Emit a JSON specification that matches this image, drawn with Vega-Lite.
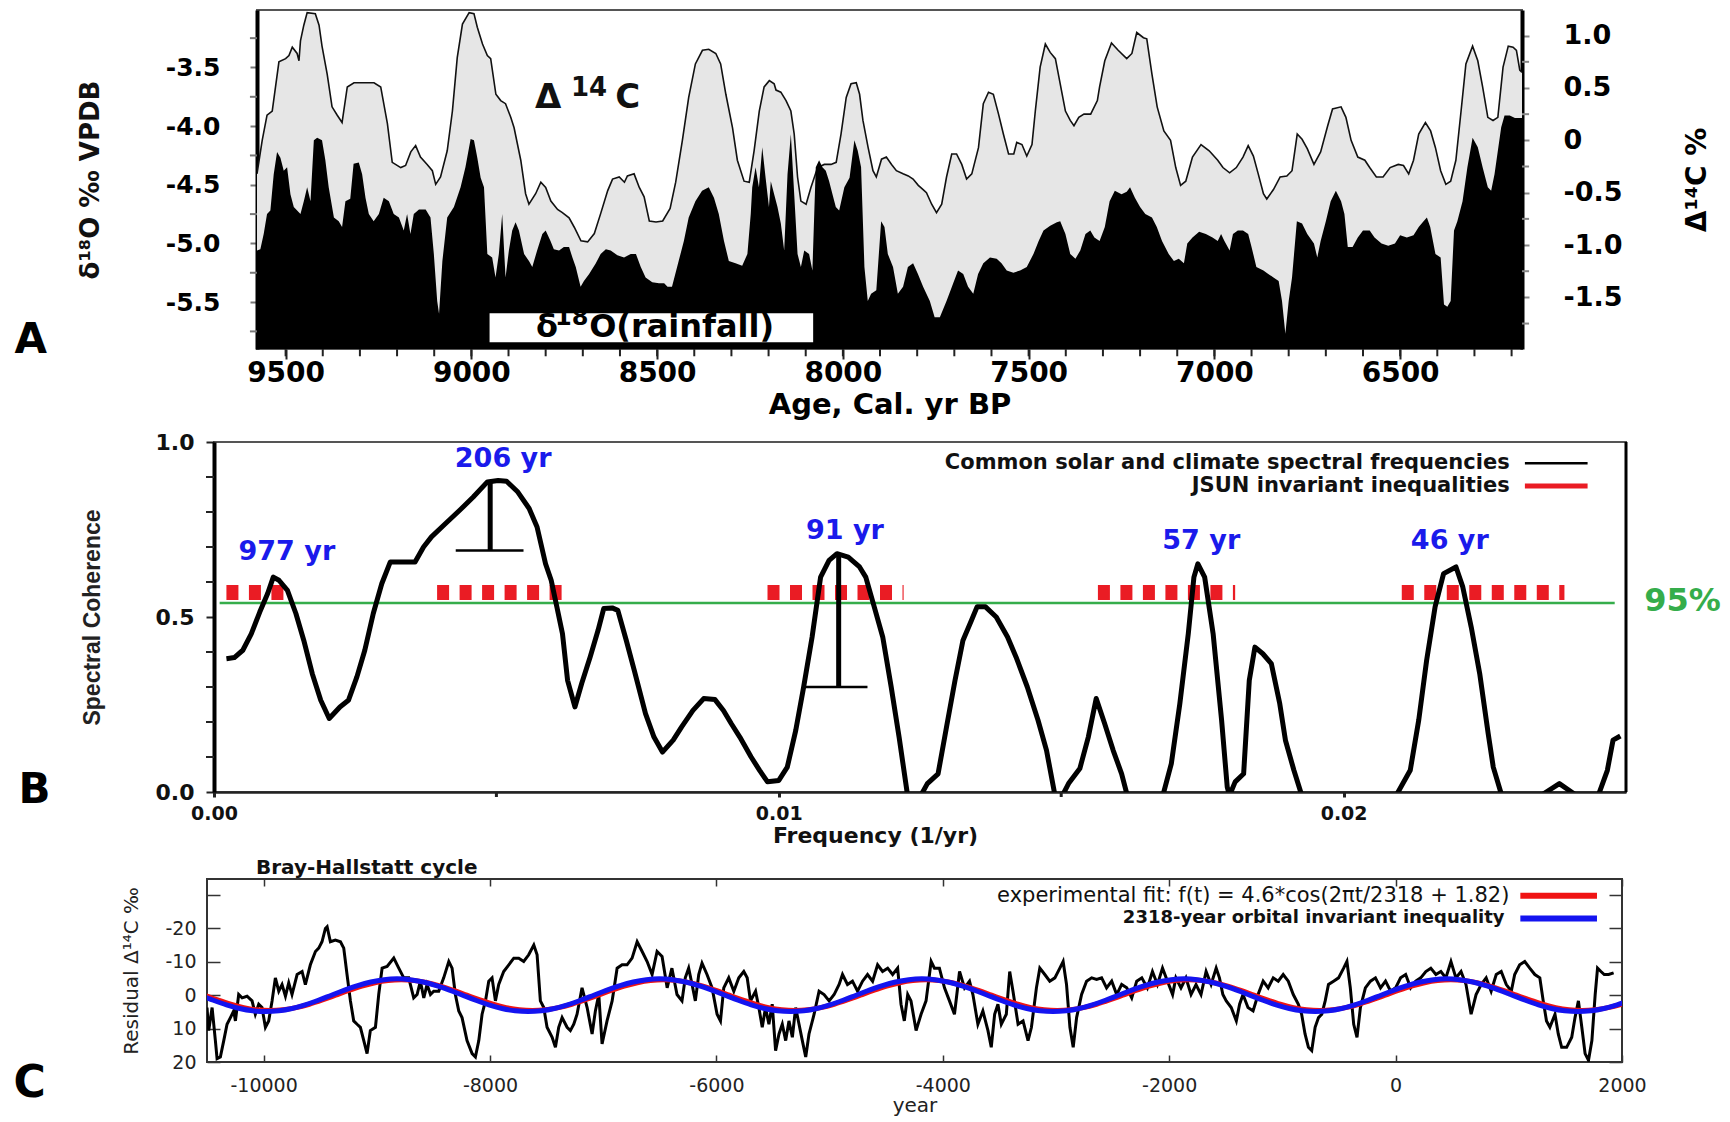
{
"$schema": "https://vega.github.io/schema/vega-lite/v6.json",
"background": "white",
"padding": {"left": 8, "top": 9, "right": 2, "bottom": 2},
"spacing": 10,
"config": {
  "view": {"stroke": "#555", "strokeWidth": 2},
  "axis": {"grid": false, "labelOverlap": false},
  "text": {"font": "DejaVu Sans"}
},
"datasets": {
"d14c": [{"age":9577,"v":-0.32},{"age":9563,"v":0.0},{"age":9550,"v":0.24},{"age":9536,"v":0.28},{"age":9518,"v":0.75},{"age":9500,"v":0.78},{"age":9491,"v":0.81},{"age":9482,"v":0.89},{"age":9469,"v":0.83},{"age":9464,"v":0.76},{"age":9460,"v":0.95},{"age":9451,"v":1.10},{"age":9442,"v":1.22},{"age":9420,"v":1.21},{"age":9410,"v":1.10},{"age":9402,"v":0.90},{"age":9388,"v":0.63},{"age":9375,"v":0.32},{"age":9361,"v":0.24},{"age":9348,"v":0.17},{"age":9334,"v":0.51},{"age":9316,"v":0.55},{"age":9294,"v":0.55},{"age":9262,"v":0.55},{"age":9244,"v":0.51},{"age":9226,"v":0.16},{"age":9213,"v":-0.21},{"age":9190,"v":-0.26},{"age":9177,"v":-0.24},{"age":9163,"v":-0.11},{"age":9150,"v":-0.05},{"age":9137,"v":-0.16},{"age":9119,"v":-0.23},{"age":9105,"v":-0.29},{"age":9096,"v":-0.42},{"age":9083,"v":-0.35},{"age":9065,"v":-0.10},{"age":9051,"v":0.28},{"age":9038,"v":0.79},{"age":9024,"v":1.11},{"age":9006,"v":1.22},{"age":8993,"v":1.21},{"age":8984,"v":1.08},{"age":8970,"v":0.92},{"age":8957,"v":0.81},{"age":8948,"v":0.78},{"age":8934,"v":0.44},{"age":8921,"v":0.38},{"age":8908,"v":0.35},{"age":8894,"v":0.22},{"age":8885,"v":0.12},{"age":8867,"v":-0.19},{"age":8854,"v":-0.51},{"age":8845,"v":-0.61},{"age":8827,"v":-0.51},{"age":8813,"v":-0.40},{"age":8800,"v":-0.45},{"age":8786,"v":-0.58},{"age":8768,"v":-0.66},{"age":8755,"v":-0.69},{"age":8737,"v":-0.74},{"age":8723,"v":-0.83},{"age":8705,"v":-0.96},{"age":8687,"v":-0.97},{"age":8669,"v":-0.89},{"age":8652,"v":-0.70},{"age":8633,"v":-0.48},{"age":8620,"v":-0.37},{"age":8602,"v":-0.35},{"age":8588,"v":-0.40},{"age":8580,"v":-0.34},{"age":8562,"v":-0.32},{"age":8548,"v":-0.45},{"age":8535,"v":-0.54},{"age":8521,"v":-0.77},{"age":8503,"v":-0.78},{"age":8485,"v":-0.77},{"age":8465,"v":-0.65},{"age":8450,"v":-0.40},{"age":8432,"v":0.0},{"age":8415,"v":0.41},{"age":8397,"v":0.73},{"age":8378,"v":0.86},{"age":8361,"v":0.87},{"age":8342,"v":0.83},{"age":8329,"v":0.73},{"age":8315,"v":0.44},{"age":8297,"v":0.12},{"age":8284,"v":-0.19},{"age":8266,"v":-0.39},{"age":8252,"v":-0.40},{"age":8239,"v":-0.10},{"age":8225,"v":0.28},{"age":8212,"v":0.51},{"age":8198,"v":0.57},{"age":8185,"v":0.54},{"age":8180,"v":0.48},{"age":8167,"v":0.46},{"age":8153,"v":0.38},{"age":8140,"v":0.28},{"age":8131,"v":0.06},{"age":8122,"v":-0.35},{"age":8113,"v":-0.58},{"age":8099,"v":-0.61},{"age":8086,"v":-0.45},{"age":8068,"v":-0.26},{"age":8050,"v":-0.23},{"age":8032,"v":-0.23},{"age":8018,"v":-0.21},{"age":8005,"v":0.06},{"age":7991,"v":0.41},{"age":7978,"v":0.54},{"age":7964,"v":0.55},{"age":7955,"v":0.44},{"age":7946,"v":0.19},{"age":7932,"v":-0.07},{"age":7919,"v":-0.29},{"age":7910,"v":-0.35},{"age":7896,"v":-0.18},{"age":7883,"v":-0.16},{"age":7869,"v":-0.23},{"age":7856,"v":-0.29},{"age":7838,"v":-0.32},{"age":7824,"v":-0.34},{"age":7811,"v":-0.37},{"age":7797,"v":-0.43},{"age":7784,"v":-0.47},{"age":7775,"v":-0.50},{"age":7761,"v":-0.61},{"age":7748,"v":-0.69},{"age":7734,"v":-0.61},{"age":7721,"v":-0.35},{"age":7707,"v":-0.13},{"age":7694,"v":-0.13},{"age":7680,"v":-0.23},{"age":7667,"v":-0.37},{"age":7653,"v":-0.32},{"age":7635,"v":-0.07},{"age":7622,"v":0.35},{"age":7608,"v":0.46},{"age":7595,"v":0.44},{"age":7581,"v":0.25},{"age":7568,"v":0.06},{"age":7554,"v":-0.13},{"age":7540,"v":-0.13},{"age":7532,"v":-0.02},{"age":7518,"v":-0.04},{"age":7505,"v":-0.15},{"age":7491,"v":-0.04},{"age":7482,"v":0.28},{"age":7469,"v":0.70},{"age":7455,"v":0.92},{"age":7442,"v":0.84},{"age":7428,"v":0.78},{"age":7415,"v":0.54},{"age":7401,"v":0.28},{"age":7388,"v":0.19},{"age":7378,"v":0.14},{"age":7365,"v":0.22},{"age":7351,"v":0.25},{"age":7333,"v":0.25},{"age":7315,"v":0.38},{"age":7309,"v":0.51},{"age":7295,"v":0.76},{"age":7277,"v":0.93},{"age":7259,"v":0.86},{"age":7236,"v":0.78},{"age":7222,"v":0.83},{"age":7209,"v":1.03},{"age":7191,"v":0.98},{"age":7182,"v":0.97},{"age":7168,"v":0.63},{"age":7154,"v":0.32},{"age":7136,"v":0.09},{"age":7118,"v":0.0},{"age":7104,"v":-0.26},{"age":7091,"v":-0.43},{"age":7077,"v":-0.39},{"age":7059,"v":-0.16},{"age":7036,"v":-0.04},{"age":7014,"v":-0.10},{"age":6991,"v":-0.19},{"age":6977,"v":-0.26},{"age":6959,"v":-0.31},{"age":6941,"v":-0.26},{"age":6923,"v":-0.16},{"age":6909,"v":-0.05},{"age":6895,"v":-0.15},{"age":6882,"v":-0.32},{"age":6868,"v":-0.51},{"age":6859,"v":-0.56},{"age":6841,"v":-0.47},{"age":6823,"v":-0.35},{"age":6805,"v":-0.34},{"age":6791,"v":-0.29},{"age":6777,"v":0.06},{"age":6764,"v":0.01},{"age":6750,"v":-0.08},{"age":6732,"v":-0.23},{"age":6714,"v":-0.11},{"age":6695,"v":0.14},{"age":6682,"v":0.30},{"age":6659,"v":0.32},{"age":6646,"v":0.22},{"age":6632,"v":0.0},{"age":6614,"v":-0.16},{"age":6595,"v":-0.19},{"age":6582,"v":-0.26},{"age":6564,"v":-0.35},{"age":6546,"v":-0.35},{"age":6527,"v":-0.26},{"age":6505,"v":-0.23},{"age":6491,"v":-0.24},{"age":6477,"v":-0.32},{"age":6464,"v":-0.19},{"age":6450,"v":0.06},{"age":6432,"v":0.17},{"age":6418,"v":0.09},{"age":6405,"v":-0.07},{"age":6391,"v":-0.29},{"age":6377,"v":-0.42},{"age":6364,"v":-0.39},{"age":6350,"v":-0.19},{"age":6336,"v":0.28},{"age":6323,"v":0.73},{"age":6305,"v":0.90},{"age":6291,"v":0.76},{"age":6278,"v":0.51},{"age":6264,"v":0.22},{"age":6250,"v":0.19},{"age":6237,"v":0.22},{"age":6223,"v":0.70},{"age":6209,"v":0.90},{"age":6196,"v":0.89},{"age":6187,"v":0.86},{"age":6178,"v":0.67},{"age":6172,"v":0.65}],
"d18o": [{"age":9577,"v":-5.06},{"age":9568,"v":-5.05},{"age":9559,"v":-4.92},{"age":9550,"v":-4.75},{"age":9541,"v":-4.72},{"age":9532,"v":-4.41},{"age":9523,"v":-4.22},{"age":9514,"v":-4.27},{"age":9505,"v":-4.38},{"age":9496,"v":-4.35},{"age":9487,"v":-4.58},{"age":9478,"v":-4.69},{"age":9469,"v":-4.72},{"age":9460,"v":-4.75},{"age":9451,"v":-4.64},{"age":9442,"v":-4.52},{"age":9433,"v":-4.64},{"age":9424,"v":-4.12},{"age":9415,"v":-4.10},{"age":9402,"v":-4.12},{"age":9393,"v":-4.29},{"age":9384,"v":-4.52},{"age":9370,"v":-4.78},{"age":9357,"v":-4.81},{"age":9348,"v":-4.86},{"age":9339,"v":-4.64},{"age":9326,"v":-4.62},{"age":9317,"v":-4.32},{"age":9303,"v":-4.31},{"age":9294,"v":-4.41},{"age":9285,"v":-4.61},{"age":9276,"v":-4.75},{"age":9263,"v":-4.81},{"age":9249,"v":-4.75},{"age":9236,"v":-4.61},{"age":9222,"v":-4.64},{"age":9209,"v":-4.75},{"age":9195,"v":-4.78},{"age":9182,"v":-4.89},{"age":9173,"v":-4.75},{"age":9164,"v":-4.92},{"age":9155,"v":-4.75},{"age":9141,"v":-4.71},{"age":9123,"v":-4.71},{"age":9110,"v":-4.78},{"age":9101,"v":-5.09},{"age":9092,"v":-5.49},{"age":9087,"v":-5.60},{"age":9078,"v":-5.15},{"age":9065,"v":-4.78},{"age":9047,"v":-4.69},{"age":9029,"v":-4.52},{"age":9016,"v":-4.35},{"age":9002,"v":-4.11},{"age":8993,"v":-4.12},{"age":8984,"v":-4.27},{"age":8975,"v":-4.44},{"age":8966,"v":-4.52},{"age":8957,"v":-5.09},{"age":8944,"v":-5.12},{"age":8935,"v":-5.29},{"age":8926,"v":-5.09},{"age":8917,"v":-4.75},{"age":8908,"v":-5.29},{"age":8899,"v":-5.06},{"age":8890,"v":-4.89},{"age":8881,"v":-4.82},{"age":8872,"v":-4.89},{"age":8858,"v":-5.09},{"age":8845,"v":-5.15},{"age":8836,"v":-5.20},{"age":8823,"v":-5.06},{"age":8809,"v":-4.92},{"age":8800,"v":-4.89},{"age":8787,"v":-4.98},{"age":8778,"v":-5.05},{"age":8764,"v":-5.06},{"age":8751,"v":-5.03},{"age":8737,"v":-5.03},{"age":8728,"v":-5.12},{"age":8719,"v":-5.20},{"age":8706,"v":-5.37},{"age":8697,"v":-5.32},{"age":8683,"v":-5.26},{"age":8665,"v":-5.17},{"age":8652,"v":-5.09},{"age":8638,"v":-5.05},{"age":8625,"v":-5.06},{"age":8607,"v":-5.10},{"age":8589,"v":-5.12},{"age":8571,"v":-5.09},{"age":8557,"v":-5.09},{"age":8544,"v":-5.20},{"age":8531,"v":-5.29},{"age":8513,"v":-5.33},{"age":8495,"v":-5.34},{"age":8481,"v":-5.34},{"age":8472,"v":-5.37},{"age":8460,"v":-5.37},{"age":8442,"v":-5.15},{"age":8428,"v":-4.98},{"age":8415,"v":-4.78},{"age":8397,"v":-4.64},{"age":8379,"v":-4.55},{"age":8361,"v":-4.52},{"age":8347,"v":-4.61},{"age":8334,"v":-4.75},{"age":8320,"v":-4.98},{"age":8307,"v":-5.15},{"age":8289,"v":-5.17},{"age":8271,"v":-5.19},{"age":8257,"v":-5.09},{"age":8248,"v":-4.75},{"age":8244,"v":-4.52},{"age":8235,"v":-4.35},{"age":8226,"v":-4.52},{"age":8217,"v":-4.18},{"age":8208,"v":-4.44},{"age":8199,"v":-4.69},{"age":8194,"v":-4.47},{"age":8185,"v":-4.58},{"age":8176,"v":-4.69},{"age":8167,"v":-4.83},{"age":8158,"v":-5.06},{"age":8149,"v":-4.41},{"age":8140,"v":-4.07},{"age":8131,"v":-4.58},{"age":8122,"v":-5.09},{"age":8113,"v":-5.20},{"age":8104,"v":-5.06},{"age":8091,"v":-5.09},{"age":8082,"v":-5.23},{"age":8073,"v":-4.35},{"age":8064,"v":-4.29},{"age":8055,"v":-4.35},{"age":8046,"v":-4.38},{"age":8037,"v":-4.47},{"age":8028,"v":-4.58},{"age":8019,"v":-4.69},{"age":8010,"v":-4.72},{"age":7996,"v":-4.52},{"age":7982,"v":-4.44},{"age":7969,"v":-4.12},{"age":7960,"v":-4.21},{"age":7951,"v":-4.35},{"age":7942,"v":-5.20},{"age":7933,"v":-5.49},{"age":7924,"v":-5.43},{"age":7910,"v":-5.40},{"age":7897,"v":-4.81},{"age":7888,"v":-4.86},{"age":7879,"v":-5.09},{"age":7865,"v":-5.20},{"age":7852,"v":-5.43},{"age":7838,"v":-5.37},{"age":7825,"v":-5.20},{"age":7811,"v":-5.17},{"age":7798,"v":-5.26},{"age":7784,"v":-5.37},{"age":7766,"v":-5.49},{"age":7753,"v":-5.63},{"age":7739,"v":-5.63},{"age":7721,"v":-5.49},{"age":7703,"v":-5.34},{"age":7690,"v":-5.23},{"age":7676,"v":-5.26},{"age":7663,"v":-5.37},{"age":7649,"v":-5.43},{"age":7636,"v":-5.26},{"age":7622,"v":-5.17},{"age":7604,"v":-5.12},{"age":7586,"v":-5.13},{"age":7573,"v":-5.17},{"age":7559,"v":-5.23},{"age":7541,"v":-5.25},{"age":7523,"v":-5.23},{"age":7505,"v":-5.20},{"age":7487,"v":-5.09},{"age":7473,"v":-4.98},{"age":7460,"v":-4.89},{"age":7442,"v":-4.85},{"age":7424,"v":-4.82},{"age":7415,"v":-4.81},{"age":7401,"v":-4.92},{"age":7388,"v":-5.09},{"age":7374,"v":-5.13},{"age":7361,"v":-5.06},{"age":7347,"v":-4.92},{"age":7334,"v":-4.89},{"age":7323,"v":-4.95},{"age":7309,"v":-4.98},{"age":7295,"v":-4.86},{"age":7282,"v":-4.64},{"age":7268,"v":-4.55},{"age":7250,"v":-4.58},{"age":7236,"v":-4.56},{"age":7227,"v":-4.52},{"age":7214,"v":-4.61},{"age":7200,"v":-4.69},{"age":7186,"v":-4.75},{"age":7168,"v":-4.78},{"age":7155,"v":-4.86},{"age":7141,"v":-4.98},{"age":7123,"v":-5.09},{"age":7109,"v":-5.15},{"age":7096,"v":-5.13},{"age":7082,"v":-5.17},{"age":7073,"v":-5.00},{"age":7059,"v":-4.95},{"age":7041,"v":-4.90},{"age":7023,"v":-4.92},{"age":7005,"v":-4.95},{"age":6991,"v":-4.98},{"age":6982,"v":-4.92},{"age":6973,"v":-4.98},{"age":6959,"v":-5.06},{"age":6950,"v":-4.92},{"age":6937,"v":-4.89},{"age":6923,"v":-4.89},{"age":6909,"v":-4.92},{"age":6900,"v":-5.03},{"age":6887,"v":-5.20},{"age":6868,"v":-5.23},{"age":6855,"v":-5.26},{"age":6841,"v":-5.29},{"age":6827,"v":-5.32},{"age":6818,"v":-5.49},{"age":6809,"v":-5.77},{"age":6800,"v":-5.49},{"age":6791,"v":-5.29},{"age":6778,"v":-4.81},{"age":6764,"v":-4.83},{"age":6750,"v":-4.92},{"age":6732,"v":-5.00},{"age":6723,"v":-5.12},{"age":6714,"v":-4.98},{"age":6700,"v":-4.81},{"age":6687,"v":-4.64},{"age":6673,"v":-4.55},{"age":6659,"v":-4.64},{"age":6650,"v":-4.75},{"age":6641,"v":-5.03},{"age":6628,"v":-5.03},{"age":6614,"v":-4.95},{"age":6600,"v":-4.89},{"age":6582,"v":-4.89},{"age":6569,"v":-4.95},{"age":6550,"v":-5.00},{"age":6532,"v":-5.02},{"age":6514,"v":-5.00},{"age":6500,"v":-4.93},{"age":6482,"v":-4.95},{"age":6464,"v":-4.93},{"age":6450,"v":-4.86},{"age":6437,"v":-4.81},{"age":6428,"v":-4.78},{"age":6419,"v":-4.86},{"age":6405,"v":-5.09},{"age":6391,"v":-5.12},{"age":6382,"v":-5.52},{"age":6373,"v":-5.54},{"age":6364,"v":-5.49},{"age":6355,"v":-4.89},{"age":6346,"v":-4.81},{"age":6332,"v":-4.64},{"age":6319,"v":-4.35},{"age":6305,"v":-4.10},{"age":6291,"v":-4.18},{"age":6278,"v":-4.35},{"age":6264,"v":-4.52},{"age":6255,"v":-4.55},{"age":6246,"v":-4.41},{"age":6237,"v":-4.21},{"age":6228,"v":-4.01},{"age":6219,"v":-3.91},{"age":6205,"v":-3.91},{"age":6191,"v":-3.93},{"age":6178,"v":-3.93},{"age":6172,"v":-3.93}],
"ageTicks": [{"age":6200},{"age":6300},{"age":6400},{"age":6500},{"age":6600},{"age":6700},{"age":6800},{"age":6900},{"age":7000},{"age":7100},{"age":7200},{"age":7300},{"age":7400},{"age":7500},{"age":7600},{"age":7700},{"age":7800},{"age":7900},{"age":8000},{"age":8100},{"age":8200},{"age":8300},{"age":8400},{"age":8500},{"age":8600},{"age":8700},{"age":8800},{"age":8900},{"age":9000},{"age":9100},{"age":9200},{"age":9300},{"age":9400},{"age":9500}],
"spec": [{"f":0.00022,"c":0.381},{"f":0.00036,"c":0.384},{"f":0.00051,"c":0.405},{"f":0.00066,"c":0.452},{"f":0.00081,"c":0.514},{"f":0.00095,"c":0.567},{"f":0.00105,"c":0.614},{"f":0.00115,"c":0.605},{"f":0.0013,"c":0.576},{"f":0.00145,"c":0.51},{"f":0.00159,"c":0.433},{"f":0.00174,"c":0.338},{"f":0.00189,"c":0.262},{"f":0.00204,"c":0.21},{"f":0.00223,"c":0.243},{"f":0.00238,"c":0.262},{"f":0.00253,"c":0.329},{"f":0.00267,"c":0.405},{"f":0.00282,"c":0.51},{"f":0.00297,"c":0.595},{"f":0.00312,"c":0.657},{"f":0.00331,"c":0.657},{"f":0.00356,"c":0.657},{"f":0.00371,"c":0.70},{"f":0.00385,"c":0.729},{"f":0.0041,"c":0.767},{"f":0.00435,"c":0.805},{"f":0.00459,"c":0.843},{"f":0.00484,"c":0.886},{"f":0.00503,"c":0.89},{"f":0.00518,"c":0.888},{"f":0.00538,"c":0.857},{"f":0.00558,"c":0.81},{"f":0.00572,"c":0.757},{"f":0.00587,"c":0.652},{"f":0.00597,"c":0.605},{"f":0.00607,"c":0.529},{"f":0.00617,"c":0.452},{"f":0.00626,"c":0.319},{"f":0.00639,"c":0.243},{"f":0.00651,"c":0.31},{"f":0.00666,"c":0.386},{"f":0.0068,"c":0.462},{"f":0.0069,"c":0.524},{"f":0.00705,"c":0.526},{"f":0.00715,"c":0.519},{"f":0.0073,"c":0.433},{"f":0.00744,"c":0.348},{"f":0.00764,"c":0.224},{"f":0.00779,"c":0.157},{"f":0.00794,"c":0.114},{"f":0.00813,"c":0.148},{"f":0.00828,"c":0.186},{"f":0.00848,"c":0.233},{"f":0.00867,"c":0.267},{"f":0.00887,"c":0.264},{"f":0.00902,"c":0.233},{"f":0.00916,"c":0.195},{"f":0.00931,"c":0.157},{"f":0.00951,"c":0.10},{"f":0.00966,"c":0.062},{"f":0.0098,"c":0.029},{"f":0.01,"c":0.033},{"f":0.01015,"c":0.071},{"f":0.0103,"c":0.176},{"f":0.01044,"c":0.30},{"f":0.01059,"c":0.443},{"f":0.01074,"c":0.614},{"f":0.01089,"c":0.662},{"f":0.01103,"c":0.681},{"f":0.01123,"c":0.671},{"f":0.01143,"c":0.643},{"f":0.01154,"c":0.614},{"f":0.01169,"c":0.529},{"f":0.01184,"c":0.443},{"f":0.01199,"c":0.30},{"f":0.01213,"c":0.157},{"f":0.01228,"c":-0.01},{"f":0.01248,"c":-0.02},{"f":0.01263,"c":0.024},{"f":0.01282,"c":0.052},{"f":0.01297,"c":0.186},{"f":0.01312,"c":0.319},{"f":0.01326,"c":0.433},{"f":0.01341,"c":0.49},{"f":0.01351,"c":0.529},{"f":0.01366,"c":0.529},{"f":0.01385,"c":0.50},{"f":0.01405,"c":0.443},{"f":0.0142,"c":0.386},{"f":0.0144,"c":0.30},{"f":0.01459,"c":0.205},{"f":0.01474,"c":0.119},{"f":0.01489,"c":-0.01},{"f":0.01499,"c":-0.02},{"f":0.01513,"c":0.024},{"f":0.01533,"c":0.067},{"f":0.01548,"c":0.157},{"f":0.01562,"c":0.267},{"f":0.01577,"c":0.195},{"f":0.01592,"c":0.119},{"f":0.01607,"c":0.052},{"f":0.01617,"c":-0.01},{"f":0.0165,"c":-0.1},{"f":0.0168,"c":-0.01},{"f":0.01695,"c":0.081},{"f":0.0171,"c":0.252},{"f":0.01725,"c":0.452},{"f":0.01735,"c":0.614},{"f":0.01742,"c":0.652},{"f":0.01754,"c":0.614},{"f":0.01769,"c":0.452},{"f":0.01784,"c":0.205},{"f":0.01794,"c":0.014},{"f":0.01798,"c":-0.01},{"f":0.01808,"c":0.029},{"f":0.01823,"c":0.052},{"f":0.01833,"c":0.319},{"f":0.01843,"c":0.414},{"f":0.01857,"c":0.395},{"f":0.01872,"c":0.367},{"f":0.01887,"c":0.252},{"f":0.01897,"c":0.148},{"f":0.01912,"c":0.062},{"f":0.01926,"c":-0.01},{"f":0.0201,"c":-0.1},{"f":0.02093,"c":-0.01},{"f":0.02118,"c":0.062},{"f":0.02133,"c":0.205},{"f":0.02147,"c":0.376},{"f":0.02162,"c":0.529},{"f":0.02177,"c":0.624},{"f":0.02199,"c":0.643},{"f":0.02211,"c":0.586},{"f":0.02226,"c":0.471},{"f":0.02241,"c":0.338},{"f":0.02256,"c":0.167},{"f":0.02265,"c":0.071},{"f":0.0228,"c":-0.01},{"f":0.0232,"c":-0.05},{"f":0.02354,"c":-0.005},{"f":0.02382,"c":0.024},{"f":0.02408,"c":-0.005},{"f":0.0243,"c":-0.05},{"f":0.02452,"c":-0.005},{"f":0.02467,"c":0.062},{"f":0.02477,"c":0.148},{"f":0.0249,"c":0.16}],
"resid": [{"t":-10500,"r":3.7},{"t":-10485,"r":10.6},{"t":-10455,"r":3.7},{"t":-10426,"r":13.6},{"t":-10411,"r":19.0},{"t":-10382,"r":18.5},{"t":-10352,"r":13.6},{"t":-10323,"r":8.7},{"t":-10293,"r":6.7},{"t":-10264,"r":4.7},{"t":-10249,"r":7.7},{"t":-10220,"r":-0.2},{"t":-10190,"r":0.8},{"t":-10146,"r":0.3},{"t":-10102,"r":1.7},{"t":-10073,"r":5.7},{"t":-10043,"r":2.7},{"t":-10014,"r":3.7},{"t":-9984,"r":9.6},{"t":-9955,"r":7.7},{"t":-9925,"r":1.7},{"t":-9896,"r":-5.2},{"t":-9866,"r":-1.2},{"t":-9837,"r":-3.2},{"t":-9807,"r":0.3},{"t":-9778,"r":-3.7},{"t":-9749,"r":-0.2},{"t":-9704,"r":-6.2},{"t":-9660,"r":-7.1},{"t":-9631,"r":-3.2},{"t":-9587,"r":-9.1},{"t":-9542,"r":-13.1},{"t":-9513,"r":-14.1},{"t":-9484,"r":-16.0},{"t":-9454,"r":-20.0},{"t":-9439,"r":-20.5},{"t":-9410,"r":-16.0},{"t":-9366,"r":-16.5},{"t":-9321,"r":-16.0},{"t":-9292,"r":-14.1},{"t":-9263,"r":-6.2},{"t":-9233,"r":1.7},{"t":-9204,"r":7.7},{"t":-9174,"r":8.7},{"t":-9145,"r":9.6},{"t":-9115,"r":13.6},{"t":-9086,"r":17.5},{"t":-9057,"r":10.6},{"t":-9012,"r":9.6},{"t":-8983,"r":-0.2},{"t":-8953,"r":-8.1},{"t":-8909,"r":-8.6},{"t":-8850,"r":-11.1},{"t":-8806,"r":-8.1},{"t":-8762,"r":-5.2},{"t":-8718,"r":-5.2},{"t":-8674,"r":0.8},{"t":-8644,"r":-0.2},{"t":-8615,"r":-4.2},{"t":-8585,"r":0.8},{"t":-8556,"r":-3.2},{"t":-8526,"r":-0.2},{"t":-8497,"r":-1.2},{"t":-8453,"r":-1.2},{"t":-8409,"r":-5.2},{"t":-8364,"r":-10.1},{"t":-8335,"r":-8.1},{"t":-8306,"r":-0.2},{"t":-8276,"r":4.7},{"t":-8247,"r":6.7},{"t":-8203,"r":13.6},{"t":-8158,"r":17.5},{"t":-8129,"r":18.5},{"t":-8099,"r":13.6},{"t":-8070,"r":5.7},{"t":-8040,"r":1.7},{"t":-8011,"r":-4.2},{"t":-7982,"r":-5.2},{"t":-7952,"r":1.7},{"t":-7923,"r":-3.2},{"t":-7879,"r":-7.1},{"t":-7834,"r":-9.1},{"t":-7790,"r":-11.1},{"t":-7746,"r":-11.1},{"t":-7702,"r":-10.1},{"t":-7658,"r":-12.1},{"t":-7613,"r":-15.0},{"t":-7584,"r":-12.1},{"t":-7555,"r":1.7},{"t":-7525,"r":3.7},{"t":-7496,"r":9.6},{"t":-7451,"r":12.6},{"t":-7422,"r":15.6},{"t":-7393,"r":9.6},{"t":-7363,"r":6.7},{"t":-7319,"r":9.6},{"t":-7290,"r":10.6},{"t":-7260,"r":8.7},{"t":-7231,"r":5.7},{"t":-7187,"r":-2.2},{"t":-7142,"r":3.7},{"t":-7098,"r":11.6},{"t":-7069,"r":4.7},{"t":-7039,"r":-0.2},{"t":-7010,"r":14.6},{"t":-6966,"r":7.7},{"t":-6921,"r":1.7},{"t":-6877,"r":-8.1},{"t":-6833,"r":-9.1},{"t":-6789,"r":-9.1},{"t":-6745,"r":-11.1},{"t":-6700,"r":-16.0},{"t":-6656,"r":-13.1},{"t":-6612,"r":-10.1},{"t":-6568,"r":-6.2},{"t":-6524,"r":-13.1},{"t":-6480,"r":-11.6},{"t":-6435,"r":-2.2},{"t":-6393,"r":-8.1},{"t":-6348,"r":-0.2},{"t":-6304,"r":1.7},{"t":-6275,"r":-5.2},{"t":-6245,"r":-8.1},{"t":-6215,"r":-3.2},{"t":-6186,"r":1.7},{"t":-6156,"r":-6.2},{"t":-6127,"r":-9.6},{"t":-6083,"r":-6.2},{"t":-6038,"r":-2.2},{"t":-5994,"r":5.7},{"t":-5964,"r":7.7},{"t":-5935,"r":-2.2},{"t":-5891,"r":-5.2},{"t":-5846,"r":-1.2},{"t":-5802,"r":-5.2},{"t":-5758,"r":-7.1},{"t":-5728,"r":-5.2},{"t":-5699,"r":1.7},{"t":-5654,"r":-1.2},{"t":-5625,"r":3.7},{"t":-5595,"r":9.6},{"t":-5566,"r":3.7},{"t":-5536,"r":8.7},{"t":-5507,"r":2.7},{"t":-5477,"r":16.6},{"t":-5447,"r":11.6},{"t":-5418,"r":8.7},{"t":-5388,"r":13.6},{"t":-5359,"r":7.7},{"t":-5329,"r":12.6},{"t":-5300,"r":3.7},{"t":-5270,"r":8.7},{"t":-5241,"r":13.6},{"t":-5211,"r":18.5},{"t":-5182,"r":11.6},{"t":-5137,"r":5.7},{"t":-5093,"r":-1.2},{"t":-5049,"r":-0.2},{"t":-5004,"r":1.7},{"t":-4960,"r":-0.2},{"t":-4916,"r":-3.2},{"t":-4886,"r":-6.2},{"t":-4842,"r":-3.2},{"t":-4798,"r":-4.2},{"t":-4753,"r":-1.2},{"t":-4709,"r":-4.2},{"t":-4665,"r":-6.2},{"t":-4620,"r":-4.2},{"t":-4576,"r":-9.1},{"t":-4532,"r":-7.1},{"t":-4487,"r":-8.1},{"t":-4443,"r":-6.2},{"t":-4399,"r":-8.1},{"t":-4369,"r":2.7},{"t":-4340,"r":7.7},{"t":-4310,"r":-0.2},{"t":-4281,"r":1.7},{"t":-4236,"r":10.6},{"t":-4192,"r":5.7},{"t":-4148,"r":1.7},{"t":-4103,"r":-10.1},{"t":-4074,"r":-8.1},{"t":-4030,"r":-8.1},{"t":-3985,"r":-2.2},{"t":-3941,"r":1.7},{"t":-3897,"r":5.7},{"t":-3852,"r":-7.1},{"t":-3808,"r":-2.2},{"t":-3764,"r":-4.2},{"t":-3734,"r":-0.2},{"t":-3690,"r":8.7},{"t":-3646,"r":4.7},{"t":-3601,"r":10.6},{"t":-3572,"r":15.6},{"t":-3542,"r":5.7},{"t":-3513,"r":2.7},{"t":-3483,"r":8.7},{"t":-3439,"r":5.7},{"t":-3409,"r":-7.1},{"t":-3380,"r":-1.2},{"t":-3335,"r":8.7},{"t":-3291,"r":7.7},{"t":-3247,"r":13.6},{"t":-3217,"r":9.6},{"t":-3173,"r":-2.2},{"t":-3143,"r":-8.1},{"t":-3099,"r":-6.2},{"t":-3055,"r":-4.2},{"t":-3010,"r":-5.2},{"t":-2966,"r":-8.1},{"t":-2937,"r":-10.1},{"t":-2907,"r":-3.2},{"t":-2877,"r":9.6},{"t":-2848,"r":15.6},{"t":-2818,"r":6.7},{"t":-2774,"r":-0.2},{"t":-2730,"r":-4.2},{"t":-2685,"r":-5.2},{"t":-2641,"r":-4.7},{"t":-2597,"r":-5.2},{"t":-2553,"r":-2.2},{"t":-2508,"r":-4.2},{"t":-2464,"r":-0.2},{"t":-2420,"r":-3.2},{"t":-2375,"r":-2.2},{"t":-2331,"r":0.8},{"t":-2287,"r":-4.2},{"t":-2242,"r":-5.2},{"t":-2193,"r":-2.2},{"t":-2148,"r":-7.1},{"t":-2104,"r":-3.2},{"t":-2059,"r":-8.1},{"t":-2015,"r":-4.2},{"t":-1970,"r":-0.2},{"t":-1941,"r":-5.2},{"t":-1896,"r":-2.2},{"t":-1852,"r":-5.2},{"t":-1807,"r":-0.2},{"t":-1763,"r":-3.2},{"t":-1719,"r":-0.2},{"t":-1674,"r":-7.1},{"t":-1630,"r":-3.2},{"t":-1585,"r":-8.1},{"t":-1556,"r":-5.2},{"t":-1526,"r":-0.2},{"t":-1496,"r":1.7},{"t":-1452,"r":3.7},{"t":-1407,"r":7.7},{"t":-1378,"r":2.7},{"t":-1348,"r":-0.2},{"t":-1304,"r":3.7},{"t":-1259,"r":4.7},{"t":-1215,"r":-0.2},{"t":-1170,"r":-4.2},{"t":-1126,"r":-2.2},{"t":-1081,"r":-5.2},{"t":-1037,"r":-4.2},{"t":-993,"r":-6.2},{"t":-948,"r":-4.2},{"t":-904,"r":-0.2},{"t":-859,"r":2.7},{"t":-830,"r":5.7},{"t":-800,"r":11.6},{"t":-770,"r":15.6},{"t":-741,"r":16.6},{"t":-711,"r":9.6},{"t":-681,"r":6.7},{"t":-652,"r":5.7},{"t":-622,"r":1.7},{"t":-593,"r":-3.2},{"t":-548,"r":-4.2},{"t":-504,"r":-5.2},{"t":-459,"r":-8.1},{"t":-430,"r":-10.1},{"t":-400,"r":-2.2},{"t":-370,"r":8.7},{"t":-341,"r":12.6},{"t":-311,"r":3.7},{"t":-267,"r":-2.2},{"t":-222,"r":-4.2},{"t":-178,"r":-5.2},{"t":-133,"r":-2.2},{"t":-89,"r":-4.2},{"t":-44,"r":-1.2},{"t":0,"r":-2.2},{"t":44,"r":-5.2},{"t":89,"r":-6.2},{"t":133,"r":-2.2},{"t":178,"r":-4.2},{"t":222,"r":-5.2},{"t":267,"r":-7.1},{"t":311,"r":-8.1},{"t":356,"r":-6.2},{"t":400,"r":-7.1},{"t":444,"r":-5.2},{"t":489,"r":-10.1},{"t":533,"r":-5.2},{"t":578,"r":-7.1},{"t":622,"r":-3.2},{"t":667,"r":5.7},{"t":711,"r":-0.2},{"t":756,"r":-3.2},{"t":800,"r":-5.2},{"t":844,"r":-1.2},{"t":889,"r":-6.2},{"t":933,"r":-7.1},{"t":978,"r":-3.2},{"t":1022,"r":-1.2},{"t":1052,"r":-6.2},{"t":1096,"r":-9.1},{"t":1141,"r":-10.1},{"t":1185,"r":-8.1},{"t":1230,"r":-6.2},{"t":1274,"r":-5.2},{"t":1304,"r":1.7},{"t":1333,"r":7.7},{"t":1363,"r":9.6},{"t":1408,"r":5.7},{"t":1437,"r":11.6},{"t":1467,"r":15.6},{"t":1511,"r":15.6},{"t":1556,"r":12.6},{"t":1585,"r":6.7},{"t":1615,"r":1.7},{"t":1645,"r":9.6},{"t":1674,"r":17.5},{"t":1704,"r":19.5},{"t":1734,"r":13.6},{"t":1763,"r":-0.2},{"t":1784,"r":-8.1},{"t":1814,"r":-7.1},{"t":1843,"r":-6.2},{"t":1882,"r":-6.2},{"t":1926,"r":-6.7}],
"fitred": [{"t":-10523,"v":0},{"t":-10407,"v":1.421},{"t":-10291,"v":2.704},{"t":-10175,"v":3.721},{"t":-10059,"v":4.375},{"t":-9943,"v":4.6},{"t":-9828,"v":4.375},{"t":-9712,"v":3.721},{"t":-9596,"v":2.704},{"t":-9480,"v":1.421},{"t":-9364,"v":0},{"t":-9248,"v":-1.421},{"t":-9132,"v":-2.704},{"t":-9016,"v":-3.721},{"t":-8900,"v":-4.375},{"t":-8784,"v":-4.6},{"t":-8669,"v":-4.375},{"t":-8553,"v":-3.721},{"t":-8437,"v":-2.704},{"t":-8321,"v":-1.421},{"t":-8205,"v":0},{"t":-8089,"v":1.421},{"t":-7973,"v":2.704},{"t":-7857,"v":3.721},{"t":-7741,"v":4.375},{"t":-7625,"v":4.6},{"t":-7510,"v":4.375},{"t":-7394,"v":3.721},{"t":-7278,"v":2.704},{"t":-7162,"v":1.421},{"t":-7046,"v":0},{"t":-6930,"v":-1.421},{"t":-6814,"v":-2.704},{"t":-6698,"v":-3.721},{"t":-6582,"v":-4.375},{"t":-6466,"v":-4.6},{"t":-6351,"v":-4.375},{"t":-6235,"v":-3.721},{"t":-6119,"v":-2.704},{"t":-6003,"v":-1.421},{"t":-5887,"v":0},{"t":-5771,"v":1.421},{"t":-5655,"v":2.704},{"t":-5539,"v":3.721},{"t":-5423,"v":4.375},{"t":-5307,"v":4.6},{"t":-5192,"v":4.375},{"t":-5076,"v":3.721},{"t":-4960,"v":2.704},{"t":-4844,"v":1.421},{"t":-4728,"v":0},{"t":-4612,"v":-1.421},{"t":-4496,"v":-2.704},{"t":-4380,"v":-3.721},{"t":-4264,"v":-4.375},{"t":-4148,"v":-4.6},{"t":-4033,"v":-4.375},{"t":-3917,"v":-3.721},{"t":-3801,"v":-2.704},{"t":-3685,"v":-1.421},{"t":-3569,"v":0},{"t":-3453,"v":1.421},{"t":-3337,"v":2.704},{"t":-3221,"v":3.721},{"t":-3105,"v":4.375},{"t":-2989,"v":4.6},{"t":-2874,"v":4.375},{"t":-2758,"v":3.721},{"t":-2642,"v":2.704},{"t":-2526,"v":1.421},{"t":-2410,"v":0},{"t":-2294,"v":-1.421},{"t":-2178,"v":-2.704},{"t":-2062,"v":-3.721},{"t":-1946,"v":-4.375},{"t":-1830,"v":-4.6},{"t":-1715,"v":-4.375},{"t":-1599,"v":-3.721},{"t":-1483,"v":-2.704},{"t":-1367,"v":-1.421},{"t":-1251,"v":0},{"t":-1135,"v":1.421},{"t":-1019,"v":2.704},{"t":-903,"v":3.721},{"t":-787,"v":4.375},{"t":-671,"v":4.6},{"t":-556,"v":4.375},{"t":-440,"v":3.721},{"t":-324,"v":2.704},{"t":-208,"v":1.421},{"t":-92,"v":0},{"t":24,"v":-1.421},{"t":140,"v":-2.704},{"t":256,"v":-3.721},{"t":372,"v":-4.375},{"t":488,"v":-4.6},{"t":603,"v":-4.375},{"t":719,"v":-3.721},{"t":835,"v":-2.704},{"t":951,"v":-1.421},{"t":1067,"v":0},{"t":1183,"v":1.421},{"t":1299,"v":2.704},{"t":1415,"v":3.721},{"t":1531,"v":4.375},{"t":1647,"v":4.6},{"t":1762,"v":4.375},{"t":1878,"v":3.721},{"t":1994,"v":2.704},{"t":2110,"v":1.421}],
"fitblue": [{"t":-10560,"v":0},{"t":-10444,"v":1.514},{"t":-10328,"v":2.88},{"t":-10212,"v":3.964},{"t":-10096,"v":4.66},{"t":-9980,"v":4.9},{"t":-9865,"v":4.66},{"t":-9749,"v":3.964},{"t":-9633,"v":2.88},{"t":-9517,"v":1.514},{"t":-9401,"v":0},{"t":-9285,"v":-1.514},{"t":-9169,"v":-2.88},{"t":-9053,"v":-3.964},{"t":-8937,"v":-4.66},{"t":-8821,"v":-4.9},{"t":-8706,"v":-4.66},{"t":-8590,"v":-3.964},{"t":-8474,"v":-2.88},{"t":-8358,"v":-1.514},{"t":-8242,"v":0},{"t":-8126,"v":1.514},{"t":-8010,"v":2.88},{"t":-7894,"v":3.964},{"t":-7778,"v":4.66},{"t":-7662,"v":4.9},{"t":-7547,"v":4.66},{"t":-7431,"v":3.964},{"t":-7315,"v":2.88},{"t":-7199,"v":1.514},{"t":-7083,"v":0},{"t":-6967,"v":-1.514},{"t":-6851,"v":-2.88},{"t":-6735,"v":-3.964},{"t":-6619,"v":-4.66},{"t":-6503,"v":-4.9},{"t":-6388,"v":-4.66},{"t":-6272,"v":-3.964},{"t":-6156,"v":-2.88},{"t":-6040,"v":-1.514},{"t":-5924,"v":0},{"t":-5808,"v":1.514},{"t":-5692,"v":2.88},{"t":-5576,"v":3.964},{"t":-5460,"v":4.66},{"t":-5344,"v":4.9},{"t":-5229,"v":4.66},{"t":-5113,"v":3.964},{"t":-4997,"v":2.88},{"t":-4881,"v":1.514},{"t":-4765,"v":0},{"t":-4649,"v":-1.514},{"t":-4533,"v":-2.88},{"t":-4417,"v":-3.964},{"t":-4301,"v":-4.66},{"t":-4185,"v":-4.9},{"t":-4070,"v":-4.66},{"t":-3954,"v":-3.964},{"t":-3838,"v":-2.88},{"t":-3722,"v":-1.514},{"t":-3606,"v":0},{"t":-3490,"v":1.514},{"t":-3374,"v":2.88},{"t":-3258,"v":3.964},{"t":-3142,"v":4.66},{"t":-3026,"v":4.9},{"t":-2911,"v":4.66},{"t":-2795,"v":3.964},{"t":-2679,"v":2.88},{"t":-2563,"v":1.514},{"t":-2447,"v":0},{"t":-2331,"v":-1.514},{"t":-2215,"v":-2.88},{"t":-2099,"v":-3.964},{"t":-1983,"v":-4.66},{"t":-1867,"v":-4.9},{"t":-1752,"v":-4.66},{"t":-1636,"v":-3.964},{"t":-1520,"v":-2.88},{"t":-1404,"v":-1.514},{"t":-1288,"v":0},{"t":-1172,"v":1.514},{"t":-1056,"v":2.88},{"t":-940,"v":3.964},{"t":-824,"v":4.66},{"t":-708,"v":4.9},{"t":-593,"v":4.66},{"t":-477,"v":3.964},{"t":-361,"v":2.88},{"t":-245,"v":1.514},{"t":-129,"v":0},{"t":-13,"v":-1.514},{"t":103,"v":-2.88},{"t":219,"v":-3.964},{"t":335,"v":-4.66},{"t":451,"v":-4.9},{"t":566,"v":-4.66},{"t":682,"v":-3.964},{"t":798,"v":-2.88},{"t":914,"v":-1.514},{"t":1030,"v":0},{"t":1146,"v":1.514},{"t":1262,"v":2.88},{"t":1378,"v":3.964},{"t":1494,"v":4.66},{"t":1610,"v":4.9},{"t":1725,"v":4.66},{"t":1841,"v":3.964},{"t":1957,"v":2.88},{"t":2073,"v":1.514}]
},
"vconcat": [
{"hconcat": [
 {"width": 5, "height": 1, "data": {"values": []}, "mark": "point", "view": {"stroke": null}},
 {
  "width": 1265, "height": 339,
  "layer": [
    {"layer": [
      {"data": {"name": "d14c"}, "mark": {"type": "area", "color": "#e6e6e6", "clip": true},
       "encoding": {
         "x": {"field": "age", "type": "quantitative", "scale": {"domain": [6172, 9577], "reverse": true, "nice": false, "zero": false},
               "axis": {"values": [6500,7000,7500,8000,8500,9000,9500],
                        "labelExpr": "'' + datum.value", "labelOverlap": false, "title": "Age, Cal. yr BP",
                        "titleFont": "DejaVu Sans", "titleFontSize": 29, "titleFontWeight": "bold", "titleColor": "#000",
                        "labelFont": "DejaVu Sans", "labelFontSize": 28, "labelFontWeight": "bold", "labelColor": "#000",
                        "tickColor": "#222", "tickWidth": 2, "tickSize": 10, "domain": false, "labelPadding": 0, "titlePadding": 3, "labelFlush": false}},
         "y": {"field": "v", "type": "quantitative", "scale": {"domain": [-1.993, 1.245], "nice": false, "zero": false},
               "axis": {"orient": "right", "values": [-1.5,-1,-0.5,0,0.5,1],
                        "labelExpr": "datum.value === 0 ? '0' : (datum.value % 1 === 0 ? datum.value + '.0' : '' + datum.value)", "labelOverlap": false,
                        "title": "Δ¹⁴C %", "titleAngle": 270, "titleBaseline": "top", "titleFont": "DejaVu Sans", "titleFontSize": 28, "titleFontWeight": "bold", "titleColor": "#000",
                        "labelFont": "DejaVu Sans", "labelFontSize": 27, "labelFontWeight": "bold", "labelColor": "#000",
                        "tickColor": "#888", "tickWidth": 2, "tickSize": 7, "domainColor": "#000", "domainWidth": 4, "labelPadding": 34, "titlePadding": 61}},
         "y2": {"datum": -1.993}
       }},
      {"data": {"name": "d14c"}, "mark": {"type": "line", "color": "#111", "strokeWidth": 1.6, "clip": true},
       "encoding": {
         "x": {"field": "age", "type": "quantitative", "scale": {"domain": [6172, 9577], "reverse": true, "nice": false, "zero": false}},
         "y": {"field": "v", "type": "quantitative", "scale": {"domain": [-1.993, 1.245], "nice": false, "zero": false}}
       }},
      {"data": {"values": [{"v": -1.75}, {"v": -1.25}, {"v": -0.75}, {"v": -0.25}, {"v": 0.25}, {"v": 0.75}]},
       "mark": {"type": "rule", "color": "#888", "strokeWidth": 2},
       "encoding": {
         "x": {"datum": 6172, "type": "quantitative", "scale": {"domain": [6172, 9577], "reverse": true, "nice": false, "zero": false}},
         "x2": {"datum": 6153},
         "y": {"field": "v", "type": "quantitative", "scale": {"domain": [-1.993, 1.245], "nice": false, "zero": false}}
       }},
      {"data": {"values": [{"age": 8829, "v": 0.312, "label": "Δ", "sz": 34}, {"age": 8732, "v": 0.427, "label": "14", "sz": 26}, {"age": 8613, "v": 0.312, "label": "C", "sz": 34}]},
       "mark": {"type": "text", "font": "DejaVu Sans", "fontWeight": "bold", "color": "#111", "align": "left", "baseline": "alphabetic"},
       "encoding": {
         "x": {"field": "age", "type": "quantitative", "scale": {"domain": [6172, 9577], "reverse": true, "nice": false, "zero": false}},
         "y": {"field": "v", "type": "quantitative", "scale": {"domain": [-1.993, 1.245], "nice": false, "zero": false}},
         "text": {"field": "label"},
         "size": {"field": "sz", "type": "quantitative", "scale": null}
       }}
    ]},
    {"layer": [
      {"data": {"name": "d18o"}, "mark": {"type": "area", "color": "#000", "clip": true},
       "encoding": {
         "x": {"field": "age", "type": "quantitative", "scale": {"domain": [6172, 9577], "reverse": true, "nice": false, "zero": false}},
         "y": {"field": "v", "type": "quantitative", "scale": {"domain": [-5.9, -3.01], "nice": false, "zero": false},
               "axis": {"orient": "left", "values": [-5.5,-5,-4.5,-4,-3.5],
                        "labelExpr": "datum.value % 1 === 0 ? datum.value + '.0' : '' + datum.value", "labelOverlap": false,
                        "title": "δ¹⁸O ‰ VPDB", "titleFont": "DejaVu Sans", "titleFontSize": 26, "titleFontWeight": "bold", "titleColor": "#111",
                        "labelFont": "DejaVu Sans", "labelFontSize": 25, "labelFontWeight": "bold", "labelColor": "#000",
                        "tickColor": "#777", "tickWidth": 2, "tickSize": 7, "domainColor": "#000", "domainWidth": 4, "labelPadding": 30, "titlePadding": 62}},
         "y2": {"datum": -5.9}
       }},
      {"data": {"name": "ageTicks"},
       "mark": {"type": "rule", "color": "#222", "strokeWidth": 2},
       "encoding": {
         "x": {"field": "age", "type": "quantitative", "scale": {"domain": [6172, 9577], "reverse": true, "nice": false, "zero": false}},
         "y": {"datum": -5.9, "type": "quantitative", "scale": {"domain": [-5.9, -3.01], "nice": false, "zero": false}},
         "y2": {"datum": -5.962}
       }},
      {"data": {"values": [{"v": -5.75}, {"v": -5.25}, {"v": -4.75}, {"v": -4.25}, {"v": -3.75}, {"v": -3.25}]},
       "mark": {"type": "rule", "color": "#777", "strokeWidth": 2},
       "encoding": {
         "x": {"datum": 9577, "type": "quantitative", "scale": {"domain": [6172, 9577], "reverse": true, "nice": false, "zero": false}},
         "x2": {"datum": 9596},
         "y": {"field": "v", "type": "quantitative", "scale": {"domain": [-5.9, -3.01], "nice": false, "zero": false}}
       }},
      {"data": {"values": [{"a1": 8951, "a2": 8080, "v1": -5.596, "v2": -5.843}]},
       "mark": {"type": "rect", "color": "#ffffff"},
       "encoding": {
         "x": {"field": "a1", "type": "quantitative", "scale": {"domain": [6172, 9577], "reverse": true, "nice": false, "zero": false}},
         "x2": {"field": "a2"},
         "y": {"field": "v1", "type": "quantitative", "scale": {"domain": [-5.9, -3.01], "nice": false, "zero": false}},
         "y2": {"field": "v2"}
       }},
      {"data": {"values": [{"age": 8826, "v": -5.8, "label": "δ", "sz": 32}, {"age": 8775, "v": -5.698, "label": "18", "sz": 24}, {"age": 8683, "v": -5.8, "label": "O(rainfall)", "sz": 32}]},
       "mark": {"type": "text", "font": "DejaVu Sans", "fontWeight": "bold", "color": "#000", "align": "left", "baseline": "alphabetic"},
       "encoding": {
         "x": {"field": "age", "type": "quantitative", "scale": {"domain": [6172, 9577], "reverse": true, "nice": false, "zero": false}},
         "y": {"field": "v", "type": "quantitative", "scale": {"domain": [-5.9, -3.01], "nice": false, "zero": false}},
         "text": {"field": "label"},
         "size": {"field": "sz", "type": "quantitative", "scale": null}
       }},
      {"data": {"values": [{"age": 10186, "v": -5.826, "label": "A"}]},
       "mark": {"type": "text", "font": "DejaVu Sans", "fontWeight": "bold", "fontSize": 42, "color": "#000", "baseline": "middle"},
       "encoding": {
         "x": {"field": "age", "type": "quantitative", "scale": {"domain": [6172, 9577], "reverse": true, "nice": false, "zero": false}},
         "y": {"field": "v", "type": "quantitative", "scale": {"domain": [-5.9, -3.01], "nice": false, "zero": false}},
         "text": {"field": "label"}
       }}
    ]}
  ],
  "resolve": {"scale": {"y": "independent"}, "axis": {"y": "independent"}}
 }], "spacing": 0},
{"hconcat": [
 {"width": 9, "height": 1, "data": {"values": []}, "mark": "point", "view": {"stroke": null}},
 {
  "width": 1412, "height": 350,
  "layer": [
    {"data": {"values": [{"x1": 0.0001, "x2": 0.0248, "y": 0.54}]},
     "mark": {"type": "rule", "color": "#35ad4b", "strokeWidth": 2.5},
     "encoding": {
       "x": {"field": "x1", "type": "quantitative", "scale": {"domain": [0, 0.025], "nice": false, "zero": false},
             "axis": {"values": [0, 0.01, 0.02], "labelOverlap": false, "format": ".2f",
                      "title": "Frequency (1/yr)", "titleFont": "DejaVu Sans", "titleFontSize": 22, "titleFontWeight": "bold", "titleColor": "#111", "titleX": 661,
                      "labelFont": "DejaVu Sans", "labelFontSize": 19, "labelFontWeight": "bold", "labelColor": "#111",
                      "tickSize": 5, "tickWidth": 3, "tickColor": "#222", "domainColor": "#222", "domainWidth": 2.5, "labelPadding": 7, "titlePadding": 2, "labelFlush": false}},
       "x2": {"field": "x2"},
       "y": {"field": "y", "type": "quantitative", "scale": {"domain": [0, 1], "nice": false},
             "axis": {"values": [0, 0.5, 1], "labelOverlap": false, "format": ".1f",
                      "title": "Spectral Coherence", "titleFont": "Liberation Sans", "titleFontSize": 23, "titleFontWeight": "bold", "titleColor": "#222",
                      "labelFont": "DejaVu Sans", "labelFontSize": 22, "labelFontWeight": "bold", "labelColor": "#111",
                      "tickSize": 8, "tickWidth": 2, "tickColor": "#222", "domainColor": "#000", "domainWidth": 4, "labelPadding": 12, "titlePadding": 51}}
     }},
    {"data": {"values": [{"v": 0.1}, {"v": 0.2}, {"v": 0.3}, {"v": 0.4}, {"v": 0.6}, {"v": 0.7}, {"v": 0.8}, {"v": 0.9}]},
     "mark": {"type": "rule", "color": "#222", "strokeWidth": 2},
     "encoding": {
       "x": {"datum": 0, "type": "quantitative", "scale": {"domain": [0, 0.025], "nice": false, "zero": false}},
       "x2": {"datum": -0.000142},
       "y": {"field": "v", "type": "quantitative", "scale": {"domain": [0, 1], "nice": false}}
     }},
    {"data": {"values": [{"f": 0.005}, {"f": 0.015}]},
     "mark": {"type": "rule", "color": "#222", "strokeWidth": 3},
     "encoding": {
       "x": {"field": "f", "type": "quantitative", "scale": {"domain": [0, 0.025], "nice": false, "zero": false}},
       "y": {"datum": 0, "type": "quantitative", "scale": {"domain": [0, 1], "nice": false}},
       "y2": {"datum": -0.0143}
     }},
    {"data": {"values": [{"x1": 0.00022, "x2": 0.00135, "y": 0.57}, {"x1": 0.00395, "x2": 0.00634, "y": 0.57}, {"x1": 0.0098, "x2": 0.01221, "y": 0.57}, {"x1": 0.01565, "x2": 0.01808, "y": 0.57}, {"x1": 0.02103, "x2": 0.02391, "y": 0.57}]},
     "mark": {"type": "rule", "color": "#ea1c24", "strokeWidth": 15, "strokeDash": [12, 10.5], "strokeCap": "butt"},
     "encoding": {
       "x": {"field": "x1", "type": "quantitative", "scale": {"domain": [0, 0.025], "nice": false, "zero": false}},
       "x2": {"field": "x2"},
       "y": {"field": "y", "type": "quantitative", "scale": {"domain": [0, 1], "nice": false}}
     }},
    {"data": {"name": "spec"},
     "mark": {"type": "line", "color": "#000", "strokeWidth": 5, "clip": true, "strokeJoin": "round"},
     "encoding": {
       "x": {"field": "f", "type": "quantitative", "scale": {"domain": [0, 0.025], "nice": false, "zero": false}},
       "y": {"field": "c", "type": "quantitative", "scale": {"domain": [0, 1], "nice": false}}
     }},
    {"data": {"values": [{"x": 0.00489, "y1": 0.886, "y2": 0.69}, {"x": 0.01106, "y1": 0.681, "y2": 0.30}]},
     "mark": {"type": "rule", "color": "#000", "strokeWidth": 5},
     "encoding": {
       "x": {"field": "x", "type": "quantitative", "scale": {"domain": [0, 0.025], "nice": false, "zero": false}},
       "y": {"field": "y1", "type": "quantitative", "scale": {"domain": [0, 1], "nice": false}},
       "y2": {"field": "y2"}
     }},
    {"data": {"values": [{"x1": 0.00428, "x2": 0.00548, "y": 0.69}, {"x1": 0.01044, "x2": 0.01157, "y": 0.30}, {"x1": 0.02321, "x2": 0.02432, "y": 0.939}]},
     "mark": {"type": "rule", "color": "#000", "strokeWidth": 2.5},
     "encoding": {
       "x": {"field": "x1", "type": "quantitative", "scale": {"domain": [0, 0.025], "nice": false, "zero": false}},
       "x2": {"field": "x2"},
       "y": {"field": "y", "type": "quantitative", "scale": {"domain": [0, 1], "nice": false}},
       "strokeWidth": {"condition": {"test": "datum.y > 0.9", "value": 5}, "value": 2.5}
     }},
    {"data": {"values": [{"x1": 0.02321, "x2": 0.02432, "y": 0.874}]},
     "mark": {"type": "rule", "color": "#ea1c24", "strokeWidth": 5},
     "encoding": {
       "x": {"field": "x1", "type": "quantitative", "scale": {"domain": [0, 0.025], "nice": false, "zero": false}},
       "x2": {"field": "x2"},
       "y": {"field": "y", "type": "quantitative", "scale": {"domain": [0, 1], "nice": false}}
     }},
    {"data": {"values": [{"x": 0.025, "y1": 0, "y2": 1}]},
     "mark": {"type": "rule", "color": "#000", "strokeWidth": 3},
     "encoding": {
       "x": {"field": "x", "type": "quantitative", "scale": {"domain": [0, 0.025], "nice": false, "zero": false}},
       "y": {"field": "y1", "type": "quantitative", "scale": {"domain": [0, 1], "nice": false}},
       "y2": {"field": "y2"}
     }},
    {"data": {"values": [{"f": 0.00129, "c": 0.686, "label": "977 yr"}, {"f": 0.00512, "c": 0.951, "label": "206 yr"}, {"f": 0.01117, "c": 0.745, "label": "91 yr"}, {"f": 0.01748, "c": 0.717, "label": "57 yr"}, {"f": 0.02188, "c": 0.717, "label": "46 yr"}]},
     "mark": {"type": "text", "font": "DejaVu Sans", "fontWeight": "bold", "fontSize": 27, "color": "#1a1aeb", "baseline": "middle"},
     "encoding": {
       "x": {"field": "f", "type": "quantitative", "scale": {"domain": [0, 0.025], "nice": false, "zero": false}},
       "y": {"field": "c", "type": "quantitative", "scale": {"domain": [0, 1], "nice": false}},
       "text": {"field": "label"}
     }},
    {"data": {"values": [{"f": 0.02294, "c": 0.939, "label": "Common solar and climate spectral frequencies"}, {"f": 0.02294, "c": 0.874, "label": "JSUN invariant inequalities"}]},
     "mark": {"type": "text", "font": "DejaVu Sans", "fontWeight": "bold", "fontSize": 21, "color": "#111", "align": "right", "baseline": "middle"},
     "encoding": {
       "x": {"field": "f", "type": "quantitative", "scale": {"domain": [0, 0.025], "nice": false, "zero": false}},
       "y": {"field": "c", "type": "quantitative", "scale": {"domain": [0, 1], "nice": false}},
       "text": {"field": "label"}
     }},
    {"data": {"values": [{"f": 0.026, "c": 0.545, "label": "95%"}]},
     "mark": {"type": "text", "font": "DejaVu Sans", "fontWeight": "bold", "fontSize": 32, "color": "#35ad4b", "baseline": "middle"},
     "encoding": {
       "x": {"field": "f", "type": "quantitative", "scale": {"domain": [0, 0.025], "nice": false, "zero": false}},
       "y": {"field": "c", "type": "quantitative", "scale": {"domain": [0, 1], "nice": false}},
       "text": {"field": "label"}
     }},
    {"data": {"values": [{"f": -0.00318, "c": 0.005, "label": "B"}]},
     "mark": {"type": "text", "font": "DejaVu Sans", "fontWeight": "bold", "fontSize": 42, "color": "#000", "baseline": "middle"},
     "encoding": {
       "x": {"field": "f", "type": "quantitative", "scale": {"domain": [0, 0.025], "nice": false, "zero": false}},
       "y": {"field": "c", "type": "quantitative", "scale": {"domain": [0, 1], "nice": false}},
       "text": {"field": "label"}
     }}
  ]
 }], "spacing": 0},
{"hconcat": [
 {"width": 4, "height": 1, "data": {"values": []}, "mark": "point", "view": {"stroke": null}},
 {
  "width": 1415, "height": 183,
  "title": {"text": "Bray-Hallstatt cycle", "anchor": "start", "frame": "group", "dx": 49, "offset": 0, "font": "DejaVu Sans", "fontSize": 20, "fontWeight": "bold", "color": "#111"},
  "view": {"stroke": "#333", "strokeWidth": 2},
  "layer": [
    {"data": {"name": "resid"},
     "mark": {"type": "line", "color": "#000", "strokeWidth": 3, "clip": true},
     "encoding": {
       "x": {"field": "t", "type": "quantitative", "scale": {"domain": [-10500, 2000], "nice": false, "zero": false},
             "axis": {"values": [-10000,-8000,-6000,-4000,-2000,0,2000], "labelExpr": "'' + datum.value", "labelOverlap": false,
                      "title": "year", "titleFont": "DejaVu Sans", "titleFontWeight": "normal", "titleFontSize": 20, "titleColor": "#222",
                      "labelFont": "DejaVu Sans", "labelFontSize": 19, "labelColor": "#222",
                      "tickSize": -7, "tickColor": "#333", "tickWidth": 1.5, "domain": false, "labelPadding": 21, "titlePadding": 0, "labelFlush": false}},
       "y": {"field": "r", "type": "quantitative", "scale": {"domain": [-34.8, 20], "reverse": true, "nice": false, "zero": false},
             "axis": {"values": [-30,-20,-10,0,10,20], "labelExpr": "datum.value === -30 ? '' : '' + datum.value", "labelOverlap": false,
                      "title": "Residual  Δ¹⁴C ‰", "titleFont": "DejaVu Sans", "titleFontWeight": "normal", "titleFontSize": 20, "titleColor": "#222",
                      "labelFont": "DejaVu Sans", "labelFontSize": 19, "labelColor": "#222",
                      "tickSize": -13, "tickColor": "#333", "tickWidth": 1.5, "domain": false, "labelPadding": 24, "titlePadding": 23}}
     }},
    {"data": {"name": "fitred"},
     "mark": {"type": "line", "color": "#f01414", "strokeWidth": 5, "clip": true, "interpolate": "monotone"},
     "encoding": {
       "x": {"field": "t", "type": "quantitative", "scale": {"domain": [-10500, 2000], "nice": false, "zero": false},
             "axis": {"orient": "top", "values": [-10000,-8000,-6000,-4000,-2000,0,2000], "labels": false, "title": null, "tickSize": -7, "tickColor": "#333", "tickWidth": 1.5, "domain": false}},
       "y": {"field": "v", "type": "quantitative", "scale": {"domain": [-34.8, 20], "reverse": true, "nice": false, "zero": false},
             "axis": {"orient": "right", "values": [-30,-20,-10,0,10,20], "labels": false, "title": null, "tickSize": -13, "tickColor": "#333", "tickWidth": 1.5, "domain": false}}
     }},
    {"data": {"name": "fitblue"},
     "mark": {"type": "line", "color": "#1414f0", "strokeWidth": 5, "clip": true, "interpolate": "monotone"},
     "encoding": {
       "x": {"field": "t", "type": "quantitative", "scale": {"domain": [-10500, 2000], "nice": false, "zero": false}, "axis": null},
       "y": {"field": "v", "type": "quantitative", "scale": {"domain": [-34.8, 20], "reverse": true, "nice": false, "zero": false}, "axis": null}
     }},
    {"data": {"values": [{"t1": 1102, "t2": 1779, "r": -29.8}]},
     "mark": {"type": "rule", "color": "#f01414", "strokeWidth": 6},
     "encoding": {
       "x": {"field": "t1", "type": "quantitative", "scale": {"domain": [-10500, 2000], "nice": false, "zero": false}, "axis": null},
       "x2": {"field": "t2"},
       "y": {"field": "r", "type": "quantitative", "scale": {"domain": [-34.8, 20], "reverse": true, "nice": false, "zero": false}, "axis": null}
     }},
    {"data": {"values": [{"t1": 1102, "t2": 1779, "r": -23.0}]},
     "mark": {"type": "rule", "color": "#1414f0", "strokeWidth": 6},
     "encoding": {
       "x": {"field": "t1", "type": "quantitative", "scale": {"domain": [-10500, 2000], "nice": false, "zero": false}, "axis": null},
       "x2": {"field": "t2"},
       "y": {"field": "r", "type": "quantitative", "scale": {"domain": [-34.8, 20], "reverse": true, "nice": false, "zero": false}, "axis": null}
     }},
    {"data": {"values": [{"t": 1005, "r": -29.8, "label": "experimental fit: f(t) = 4.6*cos(2πt/2318 + 1.82)"}]},
     "mark": {"type": "text", "font": "DejaVu Sans", "fontSize": 21, "color": "#111", "align": "right", "baseline": "middle"},
     "encoding": {
       "x": {"field": "t", "type": "quantitative", "scale": {"domain": [-10500, 2000], "nice": false, "zero": false}, "axis": null},
       "y": {"field": "r", "type": "quantitative", "scale": {"domain": [-34.8, 20], "reverse": true, "nice": false, "zero": false}, "axis": null},
       "text": {"field": "label"}
     }},
    {"data": {"values": [{"t": 963, "r": -23.0, "label": "2318-year orbital invariant inequality"}]},
     "mark": {"type": "text", "font": "DejaVu Sans", "fontSize": 18, "fontWeight": "bold", "color": "#111", "align": "right", "baseline": "middle"},
     "encoding": {
       "x": {"field": "t", "type": "quantitative", "scale": {"domain": [-10500, 2000], "nice": false, "zero": false}, "axis": null},
       "y": {"field": "r", "type": "quantitative", "scale": {"domain": [-34.8, 20], "reverse": true, "nice": false, "zero": false}, "axis": null},
       "text": {"field": "label"}
     }},
    {"data": {"values": [{"t": -12066, "r": 26.5, "label": "C"}]},
     "mark": {"type": "text", "font": "DejaVu Sans", "fontSize": 44, "fontWeight": "bold", "color": "#000", "baseline": "middle"},
     "encoding": {
       "x": {"field": "t", "type": "quantitative", "scale": {"domain": [-10500, 2000], "nice": false, "zero": false}, "axis": null},
       "y": {"field": "r", "type": "quantitative", "scale": {"domain": [-34.8, 20], "reverse": true, "nice": false, "zero": false}, "axis": null},
       "text": {"field": "label"}
     }}
  ],
  "resolve": {"axis": {"x": "independent", "y": "independent"}}
 }], "spacing": 0}
]
}
